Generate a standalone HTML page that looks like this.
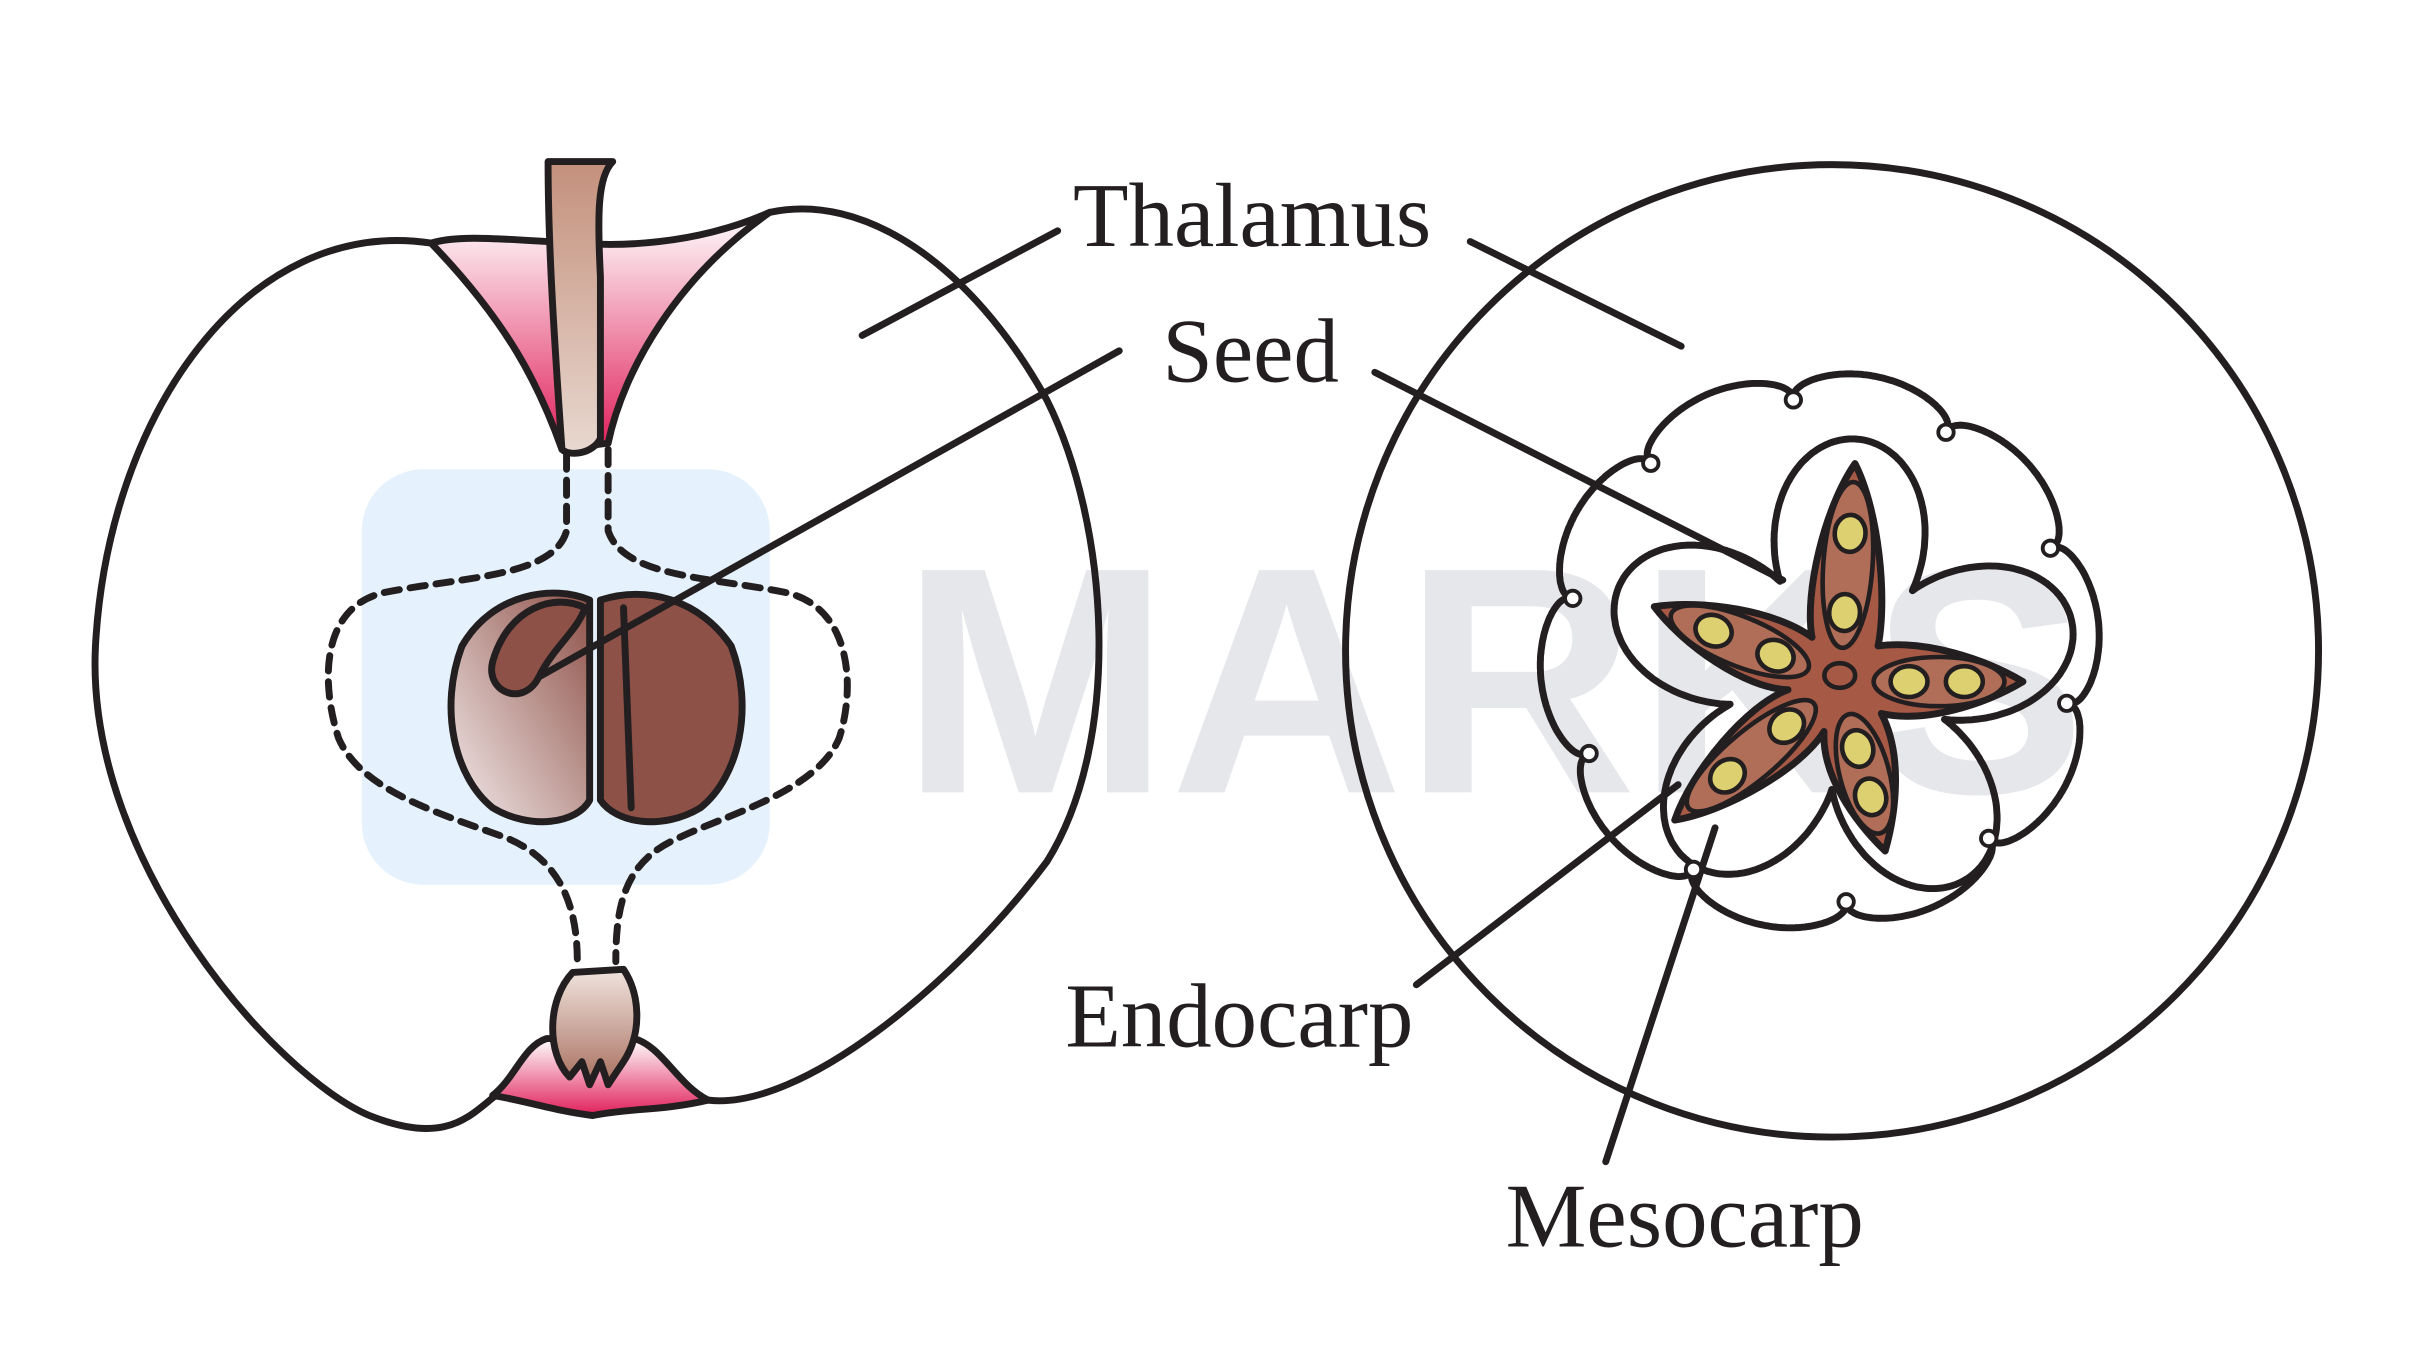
<!DOCTYPE html>
<html><head><meta charset="utf-8"><style>html,body{margin:0;padding:0;background:#fff}svg{display:block}</style></head>
<body>
<svg id="s" width="2414" height="1354" viewBox="0 0 1568 880" preserveAspectRatio="none" xmlns="http://www.w3.org/2000/svg">
<defs>
<linearGradient id="pk" x1="0" y1="0" x2="0" y2="1"><stop offset="0" stop-color="#fff"/><stop offset="1" stop-color="#e01e5a"/></linearGradient>
<linearGradient id="stem" x1="0" y1="0" x2="0" y2="1"><stop offset="0" stop-color="#c4907c"/><stop offset="1" stop-color="#e8d8d0"/></linearGradient>
<linearGradient id="seedl" x1="1" y1="0" x2="0" y2="1"><stop offset="0" stop-color="#8e5148"/><stop offset="1" stop-color="#f4ecec"/></linearGradient>
<linearGradient id="knob" x1="0" y1="0" x2="0" y2="1"><stop offset="0" stop-color="#f0e4de"/><stop offset="1" stop-color="#a86f5e"/></linearGradient>
</defs>
<rect x="235" y="305" width="265" height="270" rx="40" fill="#e5f1fc"/>
<text x="585" y="515" font-family="Liberation Sans, sans-serif" font-weight="bold" font-size="210" fill="#e6e7ea">MARKS</text>

<g fill="none" stroke="#231f20" stroke-width="4.5" stroke-linejoin="round" stroke-linecap="round">
<path d="M280,158 C160,140 70,270 62,420 C55,560 180,700 240,725 C290,745 305,725 322,712 M460,715 C520,722 620,640 680,560 C730,480 720,340 680,260 C630,170 560,125 500,138"/>
<path d="M280,158 C330,210 350,250 365,292 L395,288 C405,240 440,180 500,138 C450,160 400,160 375,158 C330,156 300,152 280,158 Z" fill="url(#pk)"/>
<path d="M356,105 L398,105 C388,115 388,140 390,180 L390,285 C385,295 370,297 365,292 C360,220 356,160 356,105 Z" fill="url(#stem)"/>
<g stroke-dasharray="10,7">
<path d="M368,295 L368,345 C360,375 300,375 250,385 C205,395 210,450 220,480 C235,515 290,530 330,545 C365,560 375,590 375,625"/>
<path d="M395,292 L395,345 C405,375 460,375 510,385 C555,395 555,450 545,480 C530,515 470,530 440,545 C405,560 400,590 400,625"/>
</g>
<path d="M383,390 C360,380 320,385 300,420 C285,460 295,505 320,525 C345,540 375,535 383,520 Z" fill="url(#seedl)"/>
<path d="M380,395 C360,385 330,395 320,430 C315,450 340,460 350,440 C360,420 375,410 380,395" fill="#8e5148"/>
<path d="M390,390 C420,380 455,390 475,420 C490,460 480,505 455,525 C430,540 400,535 390,520 Z" fill="#8e5148"/>
<line x1="405" y1="395" x2="410" y2="525"/>
<path d="M320,712 C335,700 340,680 355,675 L412,675 C430,680 440,705 460,715 C430,722 410,720 385,725 C360,722 340,715 320,712 Z" fill="url(#pk)"/>
<path d="M372,632 L405,630 C415,645 418,670 405,690 L395,705 L390,690 L383,705 L378,690 L370,700 C355,685 355,650 372,632 Z" fill="url(#knob)"/>

<circle cx="1190" cy="423" r="316"/>
<path id="outer"/>
<path id="inner"/>
<path id="star" fill="#a65a45"/>
<g id="arms" stroke-width="3"></g>

<line x1="560" y1="218" x2="687" y2="150"/>
<line x1="955" y1="157" x2="1092" y2="225"/>
<line x1="727" y1="228" x2="350" y2="440"/>
<line x1="893" y1="242" x2="1158" y2="377"/>
<line x1="920" y1="640" x2="1090" y2="510"/>
<line x1="1043" y1="755" x2="1114" y2="538"/>
</g>
<g id="dots"></g>
<g font-family="Liberation Serif, serif" font-size="59" fill="#231f20">
<text x="697" y="160">Thalamus</text>
<text x="755" y="248">Seed</text>
<text x="692" y="680">Endocarp</text>
<text x="978" y="810">Mesocarp</text>
</g>
</svg>
<script>
function P(cx,cy,f,n){let d='';for(let i=0;i<=n;i++){const t=i/n*2*Math.PI;const r=f(t);d+=(i?'L':'M')+(cx+r*Math.cos(t)).toFixed(1)+','+(cy+r*Math.sin(t)).toFixed(1);}return d+'Z';}
const D=Math.PI/180;
const o0=-96*D;
document.getElementById('outer').setAttribute('d',P(1182,423,t=>164+18*Math.pow(Math.abs(Math.sin(5*(t-o0))),0.4),800));
const CX=1195,CY=443;
const arms=[[-86,142],[0,119],[75,114],[140,140],[202,130]];
const a0=-86*D;
document.getElementById('inner').setAttribute('d',P(CX,CY-3,t=>{const c=(Math.cos(5*(t-a0))+1)/2;return 73+82*Math.pow(c,0.45);},800));
function pt(r,a){return (CX+r*Math.cos(a*D)).toFixed(1)+','+(CY+r*Math.sin(a*D)).toFixed(1);}
let d='';
for(let i=0;i<5;i++){const [a,L]=arms[i];const prev=arms[(i+4)%5][0];let pa=a-((a-prev+360)%360)/2;
 const na=arms[(i+1)%5][0];let nn=a+((na-a+360)%360)/2;
 if(i==0)d+='M'+pt(34,pa);
 d+='C'+pt(62,a-26)+' '+pt(L*0.8,a-9)+' '+pt(L,a);
 d+='C'+pt(L*0.8,a+9)+' '+pt(62,a+26)+' '+pt(34,nn);}
document.getElementById('star').setAttribute('d',d+'Z');
const ns='http://www.w3.org/2000/svg';
function el(p,n,a){const e=document.createElementNS(ns,n);for(const k in a)e.setAttribute(k,a[k]);p.appendChild(e);return e;}
const ag=document.getElementById('arms');
for(const [a,L] of arms){const r0=22,r1=L-12,m=(r0+r1)/2;const x=CX+m*Math.cos(a*D),y=CY+m*Math.sin(a*D);
 el(ag,'ellipse',{cx:x,cy:y,rx:(r1-r0)/2,ry:16,fill:'#b06e58',transform:`rotate(${a} ${x} ${y})`});}
const g=document.getElementById('dots');
for(let i=0;i<10;i++){const t=o0+i*Math.PI/5;el(g,'circle',{cx:1182+164*Math.cos(t),cy:423+164*Math.sin(t),r:5,fill:'#fff',stroke:'#231f20','stroke-width':2.5});}
for(const [a,L] of arms){for(const r of [45,L*0.68]){const x=CX+r*Math.cos(a*D),y=CY+r*Math.sin(a*D);el(g,'ellipse',{cx:x,cy:y,rx:12,ry:10,fill:'#dcd070',stroke:'#231f20','stroke-width':3,transform:`rotate(${a} ${x} ${y})`});}}
el(g,'ellipse',{cx:CX,cy:CY-4,rx:10,ry:8,fill:'#a65a45',stroke:'#231f20','stroke-width':3});
</script>
</body></html>
